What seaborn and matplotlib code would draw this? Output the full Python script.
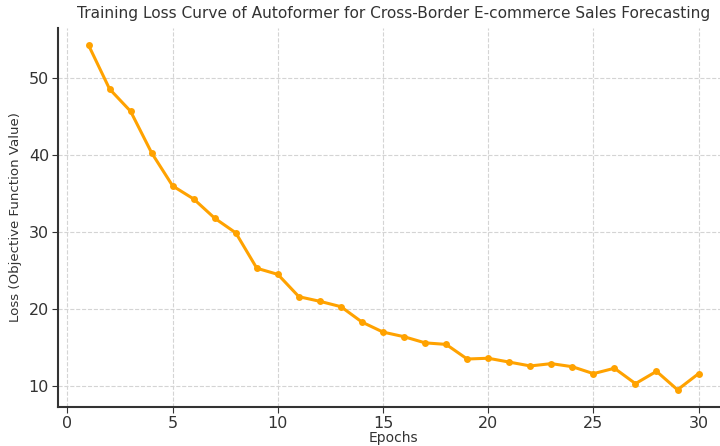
import numpy as np
import pandas as pd
import matplotlib.pyplot as plt
import seaborn as sns

# training loss per epoch
epochs = list(range(1, 31))
loss = [54.3, 48.6, 45.7, 40.3, 36.0, 34.3, 31.8, 29.9, 25.3, 24.5,
        21.6, 21.0, 20.3, 18.3, 17.0, 16.4, 15.6, 15.4, 13.5, 13.6,
        13.1, 12.6, 12.9, 12.5, 11.6, 12.3, 10.3, 11.9, 9.5, 11.6]

df = pd.DataFrame({"Epochs": epochs, "Loss": loss})

sns.set_style("ticks")
plt.rcParams['font.family'] = ['DejaVu Sans']

fig = plt.figure(figsize=(7.2, 4.46), dpi=100)
ax = fig.add_axes([0.0806, 0.0874, 0.932, 0.85])

sns.lineplot(data=df, x="Epochs", y="Loss", color="#FFA200", linewidth=2.2,
             marker="o", markersize=5, markeredgewidth=0, ax=ax)

ax.grid(True, linestyle="--", color="#d4d4d4", linewidth=0.8)
ax.set_xticks([0, 5, 10, 15, 20, 25, 30])
ax.set_yticks([10, 20, 30, 40, 50])
ax.tick_params(labelsize=11.5, colors="#333333", length=4, pad=2.5)
sns.despine(ax=ax)
for s in ["left", "bottom"]:
    ax.spines[s].set_linewidth(1.5)
    ax.spines[s].set_color("#333333")

ax.set_title("Training Loss Curve of Autoformer for Cross-Border E-commerce Sales Forecasting",
             fontsize=11.1, color="#333333", pad=7)
ax.set_xlabel("Epochs", fontsize=10, color="#333333", labelpad=0)
ax.set_ylabel("Loss (Objective Function Value)", fontsize=9.6, color="#333333", labelpad=5)

fig.savefig("out.png", dpi=100)
